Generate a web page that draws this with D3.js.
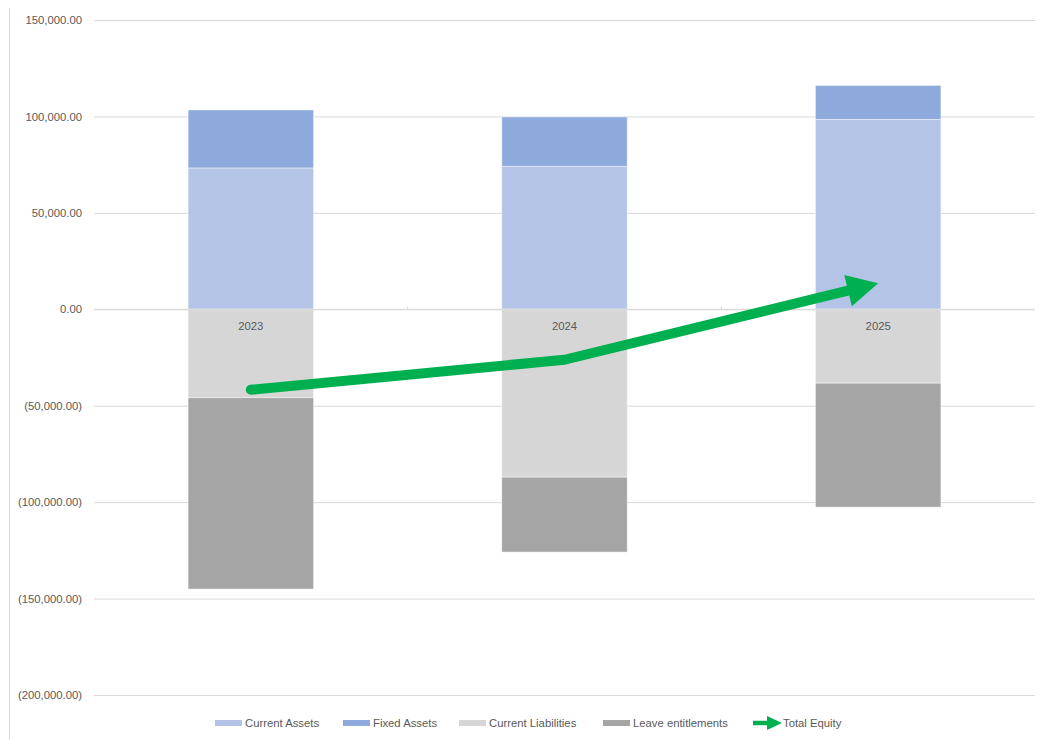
<!DOCTYPE html>
<html>
<head>
<meta charset="utf-8">
<script src="https://cdn.jsdelivr.net/npm/d3@7"></script>
<style>
html,body{margin:0;padding:0;background:#fff;}
svg{display:block;font-family:"Liberation Sans","DejaVu Sans",sans-serif;}
</style>
</head>
<body>
<svg id="chart" width="1041" height="740"></svg>
<script>
const years = ["2023", "2024", "2025"];
const currentAssets = [73300, 74100, 98450];
const fixedAssets = [30070, 25640, 17610];
const currentLiabilities = [-45850, -87050, -38340];
const leaveEntitlements = [-99230, -38850, -64250];
const totalEquity = [-41710, -26160, 13470];
const yTicks = [150000, 100000, 50000, 0, -50000, -100000, -150000, -200000];
const seriesNames = ["Current Assets", "Fixed Assets", "Current Liabilities", "Leave entitlements", "Total Equity"];
const colors = ["#B4C4E7", "#8EAADC", "#D6D6D6", "#A5A5A5", "#00B050"];

const svg = d3.select("#chart");
const W = 1041, H = 740;
const plotL = 94, plotR = 1035, plotT = 20, plotB = 695;
const FS = "11.3px";

const y = d3.scaleLinear().domain([-200000, 150000]).range([plotB, plotT]);
const x = d3.scaleBand().domain(years).range([plotL, plotR]).padding(0);
const barW = x.bandwidth() / 2.5;

// outer left border line
svg.append("line").attr("x1", 9.5).attr("x2", 9.5).attr("y1", 8).attr("y2", H)
  .attr("stroke", "#D9D9D9").attr("stroke-width", 1);

// gridlines + y labels
const fmt = v => { const s = d3.format(",.2f")(Math.abs(v)); return v < 0 ? "(" + s + ")" : s; };
const yAxis = d3.axisLeft(y).tickValues(yTicks).tickSize(-(plotR - plotL)).tickFormat(fmt).tickPadding(12);
const gy = svg.append("g").attr("transform", `translate(${plotL},0)`).call(yAxis);
gy.select(".domain").remove();
gy.selectAll(".tick line").attr("stroke", "#D9D9D9").attr("stroke-width", 1);
gy.selectAll(".tick text").attr("fill", "#595959").attr("font-size", FS)
  .attr("font-family", "'Liberation Sans', sans-serif");

// stacked bars
const stacks = [
  {vals: currentAssets, base: () => 0, color: colors[0]},
  {vals: fixedAssets, base: i => currentAssets[i], color: colors[1]},
  {vals: currentLiabilities, base: () => 0, color: colors[2]},
  {vals: leaveEntitlements, base: i => currentLiabilities[i], color: colors[3]}
];
stacks.forEach(s => {
  svg.append("g").selectAll("rect").data(years).join("rect")
    .attr("x", d => x(d) + (x.bandwidth() - barW) / 2)
    .attr("width", barW)
    .attr("y", (d, i) => y(Math.max(s.base(i), s.base(i) + s.vals[i])))
    .attr("height", (d, i) => Math.abs(y(s.base(i)) - y(s.base(i) + s.vals[i])))
    .attr("fill", s.color)
    .attr("stroke", "#ffffff").attr("stroke-opacity", 0.45).attr("stroke-width", 1);
});

// zero axis line + ticks
svg.append("line").attr("x1", plotL).attr("x2", plotR).attr("y1", y(0)).attr("y2", y(0))
  .attr("stroke", "#D9D9D9").attr("stroke-width", 1);
svg.append("g").selectAll("line").data(years.slice(1)).join("line")
  .attr("x1", d => x(d)).attr("x2", d => x(d))
  .attr("y1", y(0) - 3).attr("y2", y(0))
  .attr("stroke", "#D9D9D9");

// category labels
svg.append("g").selectAll("text").data(years).join("text")
  .attr("x", d => x(d) + x.bandwidth() / 2).attr("y", y(0) + 21)
  .attr("text-anchor", "middle").attr("fill", "#595959").attr("font-size", FS)
  .text(d => d);

// total equity line with arrow
const pts = years.map((d, i) => [x(d) + x.bandwidth() / 2, y(totalEquity[i])]);
const headLen = 31, headHalf = 16;
const pA = pts[pts.length - 2], pB = pts[pts.length - 1];
const ang = Math.atan2(pB[1] - pA[1], pB[0] - pA[0]);
const baseX = pB[0] - headLen * Math.cos(ang), baseY = pB[1] - headLen * Math.sin(ang);
const linePts = pts.slice(0, -1).concat([[baseX + 3 * Math.cos(ang), baseY + 3 * Math.sin(ang)]]);
svg.append("path").attr("d", d3.line()(linePts))
  .attr("fill", "none").attr("stroke", colors[4]).attr("stroke-width", 10)
  .attr("stroke-linecap", "round").attr("stroke-linejoin", "round");
const nx = -Math.sin(ang), ny = Math.cos(ang);
svg.append("path").attr("d", d3.line()([
  pB,
  [baseX + nx * headHalf, baseY + ny * headHalf],
  [baseX - nx * headHalf, baseY - ny * headHalf]
]) + "Z").attr("fill", colors[4]);

// legend
const legendY = 723;
const legendX = [215, 343, 459, 603, 753];
const lg = svg.append("g");
seriesNames.forEach((n, i) => {
  const g = lg.append("g").attr("transform", `translate(${legendX[i]},${legendY})`);
  if (i < 4) {
    g.append("rect").attr("x", 0).attr("y", -3).attr("width", 27).attr("height", 6).attr("fill", colors[i]);
    g.append("text").attr("x", 30).attr("y", 4).attr("font-size", FS).attr("fill", "#595959").text(n);
  } else {
    g.append("line").attr("x1", 0).attr("x2", 16).attr("y1", 0).attr("y2", 0)
      .attr("stroke", colors[4]).attr("stroke-width", 4.5);
    g.append("path").attr("d", "M14,-7L29,0L14,7Z").attr("fill", colors[4]);
    g.append("text").attr("x", 30).attr("y", 4).attr("font-size", FS).attr("fill", "#595959").text(n);
  }
});
</script>
</body>
</html>
